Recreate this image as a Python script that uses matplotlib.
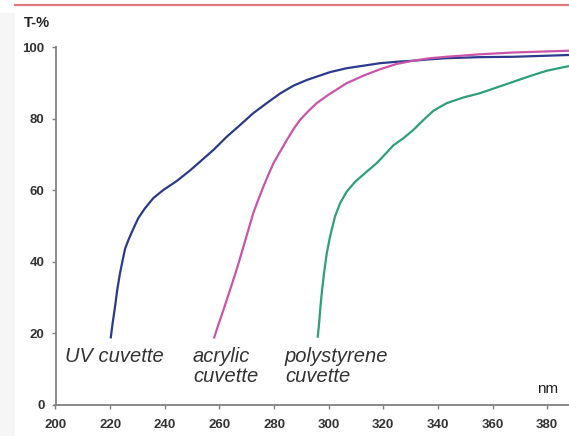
import matplotlib
matplotlib.use('Agg')
import matplotlib.pyplot as plt
from matplotlib.patches import Rectangle
from matplotlib.lines import Line2D

# transmission curves (wavelength nm, T %)
uv_nm = [220.2, 220.9, 221.8, 222.6, 223.6, 224.6, 225.5, 226.7, 228.3, 230.3,
         232.8, 235.8, 239.5, 244.4, 249.3, 252.9, 257.8, 262.7, 267.6, 272.4,
         277.3, 282.2, 287.1, 292.0, 300.5, 306.6, 312.7, 318.8, 324.9,
         331.0, 337.1, 343.2, 355.4, 367.6, 379.9, 388.0]
uv_t = [18.5, 22.7, 27.4, 32.1, 36.7, 40.5, 43.7, 46.1, 48.9, 52.2,
        55.0, 57.8, 60.1, 62.6, 65.6, 68.0, 71.3, 75.0, 78.3, 81.6,
        84.4, 87.1, 89.3, 90.9, 93.1, 94.2, 94.9, 95.6, 96.0,
        96.3, 96.7, 97.0, 97.3, 97.4, 97.7, 97.9]

acryl_nm = [258.0, 259.6, 261.5, 263.3, 265.1, 267.0, 268.8, 270.6, 272.4, 274.3,
            276.1, 277.9, 279.8, 282.2, 284.7, 287.1, 289.5, 292.6, 295.6, 300.0,
            306.6, 312.7, 318.8, 324.9, 331.0, 337.1, 343.2, 355.4, 367.6, 379.9,
            388.0]
acryl_t = [18.5, 22.3, 26.5, 30.7, 34.9, 39.5, 44.2, 48.9, 53.6, 57.5,
           61.0, 64.3, 67.6, 70.8, 74.1, 77.1, 79.7, 82.2, 84.4, 86.8,
           90.0, 92.1, 93.9, 95.4, 96.3, 97.0, 97.4, 98.1, 98.6, 98.9,
           99.1]

ps_nm = [296.0, 296.5, 297.0, 297.6, 298.3, 299.3, 300.5, 302.3, 304.2, 306.6,
         309.7, 313.9, 317.6, 321.3, 323.7, 327.4, 331.0, 334.7, 338.4, 343.2,
         349.3, 355.4, 361.5, 367.6, 373.7, 379.9, 388.0]
ps_t = [18.7, 22.7, 27.4, 32.1, 36.7, 42.3, 47.0, 52.6, 56.4, 59.6,
        62.4, 65.2, 67.6, 70.6, 72.6, 74.6, 76.9, 79.7, 82.3, 84.4,
        86.0, 87.2, 88.8, 90.4, 92.0, 93.5, 94.8]

x_ticks = [200, 220, 240, 260, 280, 300, 320, 340, 360, 380]
y_ticks = [0, 20, 40, 60, 80, 100]

W, H = 569, 436
fig = plt.figure(figsize=(W / 100, H / 100), dpi=100)
fig.patch.set_facecolor('white')

# faint grey margin on the left and the red rule at the top
fig.patches.append(Rectangle((0, 0), 15 / W, (H - 13) / H, transform=fig.transFigure,
                             facecolor='#f6f6f6', edgecolor='none', zorder=0))
fig.lines.append(Line2D([15 / W, 1], [1 - 5 / H, 1 - 5 / H], transform=fig.transFigure,
                        color='#e07a7a', lw=1.6))

ax = fig.add_axes([55.5 / W, (H - 404.5) / H, (W - 55.5) / W, (404.5 - 47.5) / H])
ax.set_facecolor('none')

ax.plot(uv_nm, uv_t, color='#2d3a8c', lw=1.6, solid_capstyle='butt', solid_joinstyle='round')
ax.plot(acryl_nm, acryl_t, color='#c855a8', lw=1.6, solid_capstyle='butt', solid_joinstyle='round')
ax.plot(ps_nm, ps_t, color='#2e9f78', lw=1.6, solid_capstyle='butt', solid_joinstyle='round')

ax.set_xlim(200, 388)
ax.set_ylim(0, 100)
ax.set_xticks(x_ticks)
ax.set_yticks(y_ticks)
for s in ['top', 'right']:
    ax.spines[s].set_visible(False)
for s in ['left', 'bottom']:
    ax.spines[s].set_color('#808080')
    ax.spines[s].set_linewidth(1.3)
ax.tick_params(direction='out', length=3, width=1, color='#808080',
               labelsize=9.5, labelcolor='#333333')
ax.tick_params(axis='x', pad=7.5)
ax.tick_params(axis='y', pad=5)
for lab in ax.get_xticklabels() + ax.get_yticklabels():
    lab.set_fontweight('bold')
    lab.set_family('Liberation Sans')

fig.text(24 / W, 1 - 23 / H, 'T-%', fontsize=10.5, fontweight='bold', color='#222222',
         family='Liberation Sans', va='center', ha='left')
fig.text(548 / W, 1 - 389 / H, 'nm', fontsize=11, color='#222222',
         family='Liberation Sans', va='center', ha='center')

lab_kw = dict(fontsize=14.5, style='italic', color='#333333', family='Liberation Sans',
              va='top', ha='left', linespacing=1.05)
ax.text(203.3, 16.0, 'UV cuvette', **lab_kw)
ax.text(250.3, 16.0, 'acrylic\ncuvette', **lab_kw)
ax.text(284.0, 16.0, 'polystyrene\ncuvette', **lab_kw)

fig.savefig('out.png', dpi=100)
